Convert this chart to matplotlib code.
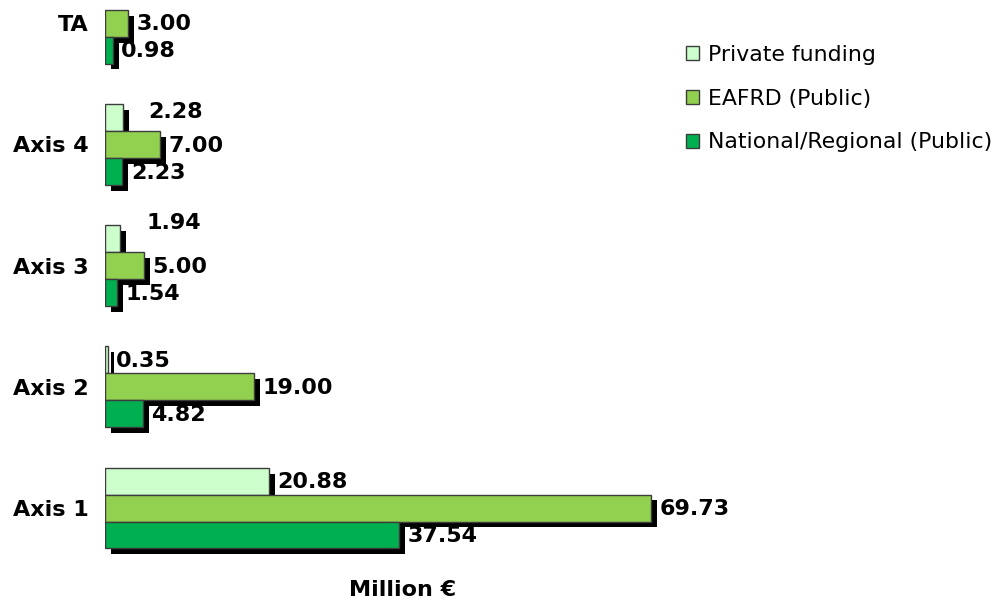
import matplotlib
matplotlib.use('Agg')
import matplotlib.pyplot as plt
import matplotlib.patheffects as pe
from matplotlib.patches import Patch
import numpy as np

categories = ['Axis 1', 'Axis 2', 'Axis 3', 'Axis 4', 'TA']
private = [20.88, 0.35, 1.94, 2.28, np.nan]
eafrd = [69.73, 19.00, 5.00, 7.00, 3.00]
national = [37.54, 4.82, 1.54, 2.23, 0.98]
series_names = ['Private funding', 'EAFRD (Public)', 'National/Regional (Public)']
colors = ['#ccffcc', '#92d050', '#00b050']

plt.rcParams['font.family'] = ['DejaVu Sans']

fig = plt.figure(figsize=(9.95, 6), dpi=100)
ax = fig.add_axes([105 / 995, 31 / 600, 596 / 995, 569 / 600])

y = np.arange(len(categories))
h = 0.2226
shadow = [pe.SimplePatchShadow(offset=(4.3, -4.3), shadow_rgbFace='black', alpha=1.0), pe.Normal()]

series = [private, eafrd, national]
offsets = [h, 0, -h]
# label nudges (points) for crowded labels: (series index, category index) -> (dx, dy)
label_nudge = {(0, 2): (13, 12), (0, 3): (12, 5)}

for si, (vals, off, col) in enumerate(zip(series, offsets, colors)):
    v = np.array(vals, dtype=float)
    bars = ax.barh(y + off, np.nan_to_num(v), height=h, color=col,
                   edgecolor='#3c3c3c', linewidth=1.0, zorder=2 + si)
    for ci, b in enumerate(bars):
        if np.isnan(v[ci]):
            b.set_visible(False)
            continue
        b.set_path_effects(shadow)
        dx, dy = label_nudge.get((si, ci), (0, 0))
        ax.annotate(f'{v[ci]:.2f}', xy=(v[ci], y[ci] + off),
                    xytext=(6 + dx, -1 + dy), textcoords='offset points',
                    ha='left', va='center', fontsize=16, fontweight='bold',
                    color='black', zorder=10)

ax.set_xlim(0, 76.1)
ax.set_ylim(-0.503, 4.19)
ax.set_yticks(y, categories)
ax.set_xticks([])
ax.tick_params(axis='y', length=0, pad=12)
for lab in ax.get_yticklabels():
    lab.set_fontweight('bold')
    lab.set_fontsize(16)
for s in ax.spines.values():
    s.set_visible(False)
ax.patch.set_alpha(0)

handles = [Patch(facecolor=c, edgecolor='#3c3c3c', linewidth=1.0) for c in colors]
fig.legend(handles, series_names, loc='upper left', bbox_to_anchor=(686 / 995, 1 - 45 / 600),
           frameon=False, borderaxespad=0, borderpad=0, fontsize=15.8,
           handlelength=0.6, handleheight=0.6, handletextpad=0.4, labelspacing=1.08)

fig.text(403 / 995, 1 - 590 / 600, 'Million €', ha='center', va='center',
         fontsize=16, fontweight='bold')

fig.savefig('out.png', dpi=100)
